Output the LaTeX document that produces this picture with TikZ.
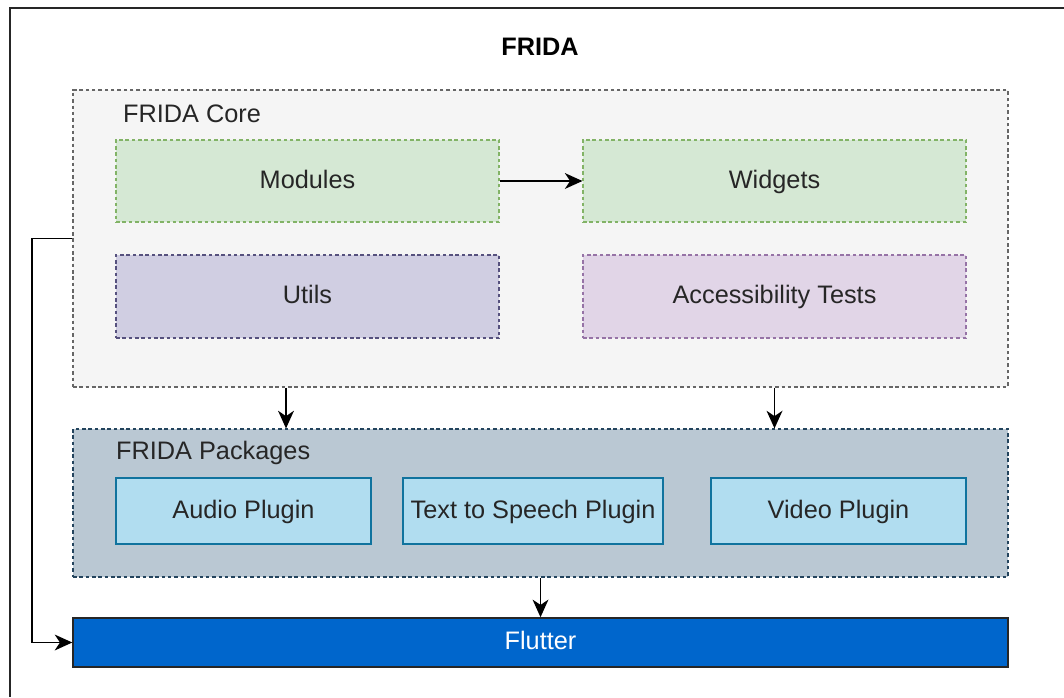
\documentclass[tikz,border=0pt]{standalone}
\usepackage{fontspec}
\setmainfont{Liberation Sans}
\usetikzlibrary{arrows.meta,positioning,calc}

\definecolor{coreFill}{HTML}{F5F5F5}
\definecolor{coreLine}{HTML}{666666}
\definecolor{greenFill}{HTML}{D5E8D4}
\definecolor{greenLine}{HTML}{82B366}
\definecolor{utilFill}{HTML}{D0CEE2}
\definecolor{utilLine}{HTML}{56517E}
\definecolor{purpFill}{HTML}{E1D5E7}
\definecolor{purpLine}{HTML}{9673A6}
\definecolor{pkgFill}{HTML}{BAC8D3}
\definecolor{pkgLine}{HTML}{23445D}
\definecolor{plugFill}{HTML}{B1DDF0}
\definecolor{plugLine}{HTML}{10739E}
\definecolor{flutFill}{HTML}{0066CC}

\begin{document}
\begin{tikzpicture}[
  x=0.02cm,y=-0.02cm,
  line join=miter,
  >={Stealth[length=10pt,width=9pt,inset=3pt]},
  font=\fontsize{14.4}{17}\selectfont
]
  \tikzset{
    dashline/.style={dash pattern=on 2pt off 1.6pt, line width=0.7pt},
    group/.style={rectangle, dashline, minimum width=18.7cm},
    block/.style={rectangle, dashline, minimum width=7.66cm, text=black!85,
      text height=11.5pt, text depth=3pt},
    plugin/.style={rectangle, draw=plugLine, fill=plugFill, line width=0.9pt,
      minimum height=1.32cm, text=black!85, text height=11.5pt, text depth=3pt},
    link/.style={line width=0.9pt,->}
  }
  \useasboundingbox (0,0) rectangle (1064,697);

  % Outer frame
  \draw[line width=1.1pt, draw=black!85] (1064,8) -- (10,8) -- (10,697);
  \node[font=\fontsize{14.4}{17}\selectfont\bfseries] (title) at (540,47) {FRIDA};

  % Core
  \node[group, draw=coreLine, fill=coreFill, minimum height=5.94cm] (core) at (540.5,238.5) {};
  \node[anchor=west, text=black!85] (coreLbl) at (117,114) {FRIDA Core};

  \node[block, draw=greenLine, fill=greenFill, minimum height=1.64cm] (modules) at (307.5,181) {Modules};
  \node[block, draw=greenLine, fill=greenFill, minimum height=1.64cm] (widgets) at (774.5,181) {Widgets};
  \node[block, draw=utilLine, fill=utilFill, minimum height=1.66cm] (utils) at (307.5,296.5) {Utils};
  \node[block, draw=purpLine, fill=purpFill, minimum height=1.66cm] (tests) at (774.5,296.5) {Accessibility Tests};

  % Packages
  \node[group, draw=pkgLine, fill=pkgFill, minimum height=2.96cm] (pkgs) at (540.5,503) {};
  \node[anchor=west, text=black!85] (pkgLbl) at (110,453) {FRIDA Packages};

  \node[plugin, minimum width=5.1cm] (audio) at (243.5,511) {Audio Plugin};
  \node[plugin, minimum width=5.2cm] (speech) at (533,511) {Text to Speech Plugin};
  \node[plugin, minimum width=5.1cm] (video) at (838.5,511) {Video Plugin};

  % Flutter
  \node[rectangle, draw=black!85, fill=flutFill, line width=0.9pt, minimum width=18.7cm,
    minimum height=0.98cm, text=white, text height=11.5pt, text depth=3pt] (flutter) at (540.5,642.5) {Flutter};

  % Connectors
  \coordinate (dropA) at (286,0);
  \coordinate (bend) at (32,0);
  \draw[link] (modules) -- (widgets);
  \draw[link] (core.south -| dropA) -- (pkgs.north -| dropA);
  \draw[link] (core.south -| widgets) -- (pkgs.north -| widgets);
  \draw[link] (pkgs.south) -- (flutter.north);
  \draw[link] (core.west) -- (core.west -| bend) |- (flutter.west);
\end{tikzpicture}
\end{document}
